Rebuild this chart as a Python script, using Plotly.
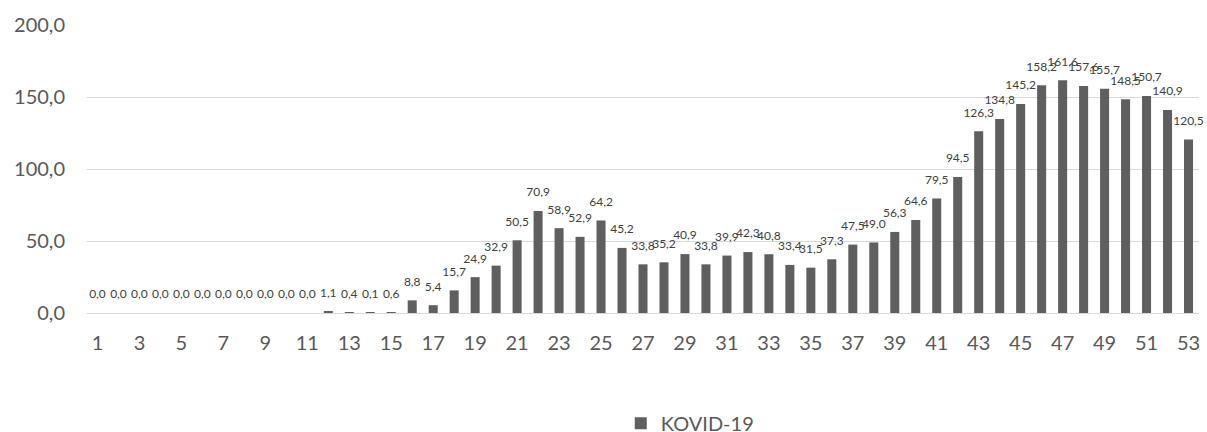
import plotly.graph_objects as go

weeks = list(range(1, 54))
values = [0.0]*11 + [1.1, 0.4, 0.1, 0.6, 8.8, 5.4, 15.7, 24.9, 32.9, 50.5,
          70.9, 58.9, 52.9, 64.2, 45.2, 33.8, 35.2, 40.9, 33.8, 39.9,
          42.3, 40.8, 33.4, 31.5, 37.3, 47.5, 49.0, 56.3, 64.6, 79.5,
          94.5, 126.3, 134.8, 145.2, 158.2, 161.6, 157.6, 155.7, 148.5, 150.7,
          140.9, 120.5]
series_name = "KOVID-19"
y_ticks = [0, 50, 100, 150, 200]
x_ticks = list(range(1, 54, 2))

labels = [f"{v:.1f}".replace(".", ",") for v in values]

fig = go.Figure()
fig.add_trace(go.Bar(
    x=weeks, y=values, name=series_name,
    marker=dict(color="#5f5f5f", line=dict(width=0)),
    showlegend=True, hoverinfo="x+y",
))
fig.add_trace(go.Scatter(
    x=weeks, y=values, mode="markers+text", text=labels,
    textposition="top center",
    marker=dict(size=17, opacity=0),
    textfont=dict(size=12, color="#404040", family="Lato"),
    cliponaxis=False, showlegend=False, hoverinfo="skip",
))

fig.update_layout(
    width=1207, height=432,
    margin=dict(l=87, r=8, t=25, b=119, autoexpand=False),
    paper_bgcolor="white", plot_bgcolor="white",
    separators=",.",
    bargap=0.57,
    font=dict(family="Lato", color="#595959"),
    xaxis=dict(range=[0.5, 53.5], tickvals=x_ticks, ticktext=[str(t) for t in x_ticks],
               showgrid=False, zeroline=False, showline=False,
               tickfont=dict(size=20, color="#595959"), ticklabelstandoff=16),
    yaxis=dict(range=[0, 200], tickvals=y_ticks, tickformat=".1f",
               showgrid=True, gridcolor="#d9d9d9", gridwidth=1,
               zeroline=True, zerolinecolor="#d9d9d9", zerolinewidth=1,
               tickfont=dict(size=20, color="#595959"), ticklabelstandoff=21),
    legend=dict(orientation="h", x=0.48, xanchor="left", y=-0.315, yanchor="top",
                font=dict(size=20, color="#595959")),
)

fig.write_html("out.html", config={"displayModeBar": False},
               post_script="document.body.style.margin='0px';document.body.style.overflow='hidden';")
